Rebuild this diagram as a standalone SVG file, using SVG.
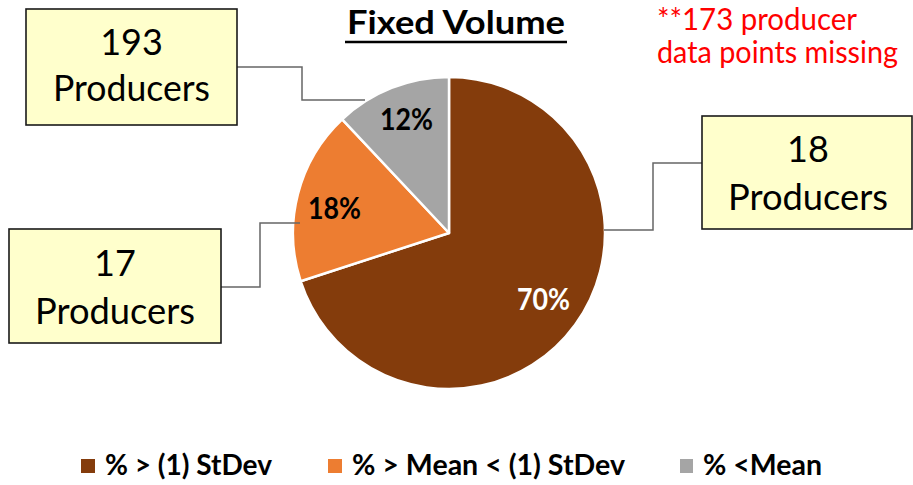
<svg xmlns="http://www.w3.org/2000/svg" width="913" height="485" viewBox="0 0 913 485">
  <style>
    .lbl { font-family: Lato, "Open Sans", "Liberation Sans", sans-serif; }
    .box { fill: #FFFFCC; stroke: #1a1a1a; stroke-width: 1.6; }
    .boxtxt { font-size: 36px; fill: #000; text-anchor: middle; }
    .pct { font-size: 30px; font-weight: bold; }
    .leg { font-size: 29px; font-weight: bold; fill: #000; }
    .lead { fill: none; stroke: #666666; stroke-width: 1.5; }
    .slice { stroke: #ffffff; stroke-width: 2.5; stroke-linejoin: round; }
  </style>
  <rect width="913" height="485" fill="#ffffff"/>

  <!-- title -->
  <g id="title">
    <text class="lbl" x="456" y="34" font-size="32" font-weight="bold" text-anchor="middle" textLength="218" lengthAdjust="spacingAndGlyphs">Fixed Volume</text>
    <line x1="345" y1="42" x2="567" y2="42" stroke="#000" stroke-width="2.5"/>
  </g>

  <!-- note -->
  <g id="note" class="lbl" font-size="30" fill="#FF0000">
    <text x="657" y="30" textLength="200" lengthAdjust="spacingAndGlyphs">**173 producer</text>
    <text x="657" y="63" textLength="241" lengthAdjust="spacingAndGlyphs">data points missing</text>
  </g>

  <!-- pie -->
  <g id="pie">
    <path class="slice" fill="#843C0C" d="M449,233 L449,77 A156,156 0 1 1 300.6,281.2 Z"/>
    <path class="slice" fill="#ED7D31" d="M449,233 L300.6,281.2 A156,156 0 0 1 342.2,119.3 Z"/>
    <path class="slice" fill="#A5A5A5" d="M449,233 L342.2,119.3 A156,156 0 0 1 449,77 Z"/>
    <text class="lbl pct" x="406.5" y="130" fill="#000" text-anchor="middle" textLength="53" lengthAdjust="spacingAndGlyphs">12%</text>
    <text class="lbl pct" x="334.5" y="219" fill="#000" text-anchor="middle" textLength="53" lengthAdjust="spacingAndGlyphs">18%</text>
    <text class="lbl pct" x="543.5" y="310" fill="#fff" text-anchor="middle" textLength="53" lengthAdjust="spacingAndGlyphs">70%</text>
  </g>

  <!-- leader lines -->
  <g id="connectors">
    <polyline class="lead" points="237,67 302,67 302,100 365,100"/>
    <polyline class="lead" points="221,287 260,287 260,223 300,223"/>
    <polyline class="lead" points="604,230 653,230 653,163 702,163"/>
  </g>

  <!-- callout boxes -->
  <g id="box193">
    <rect class="box" x="26" y="9" width="211" height="116"/>
    <text class="lbl boxtxt" x="131.5" y="55">193</text>
    <text class="lbl boxtxt" x="131.5" y="101" textLength="157" lengthAdjust="spacingAndGlyphs">Producers</text>
  </g>
  <g id="box17">
    <rect class="box" x="9" y="229" width="212" height="114"/>
    <text class="lbl boxtxt" x="115" y="276">17</text>
    <text class="lbl boxtxt" x="115" y="324" textLength="160" lengthAdjust="spacingAndGlyphs">Producers</text>
  </g>
  <g id="box18">
    <rect class="box" x="702" y="116" width="210" height="113"/>
    <text class="lbl boxtxt" x="808" y="162">18</text>
    <text class="lbl boxtxt" x="808" y="210" textLength="160" lengthAdjust="spacingAndGlyphs">Producers</text>
  </g>

  <!-- legend -->
  <g id="legend">
    <rect x="81" y="459" width="14" height="14" fill="#843C0C"/>
    <text class="lbl leg" x="105" y="475" textLength="167" lengthAdjust="spacingAndGlyphs">% &gt; (1) StDev</text>
    <rect x="328" y="459" width="14" height="14" fill="#ED7D31"/>
    <text class="lbl leg" x="352" y="475" textLength="273" lengthAdjust="spacingAndGlyphs">% &gt; Mean &lt; (1) StDev</text>
    <rect x="680" y="459" width="13" height="14" fill="#A5A5A5"/>
    <text class="lbl leg" x="703" y="475" textLength="119" lengthAdjust="spacingAndGlyphs">% &lt;Mean</text>
  </g>
</svg>
